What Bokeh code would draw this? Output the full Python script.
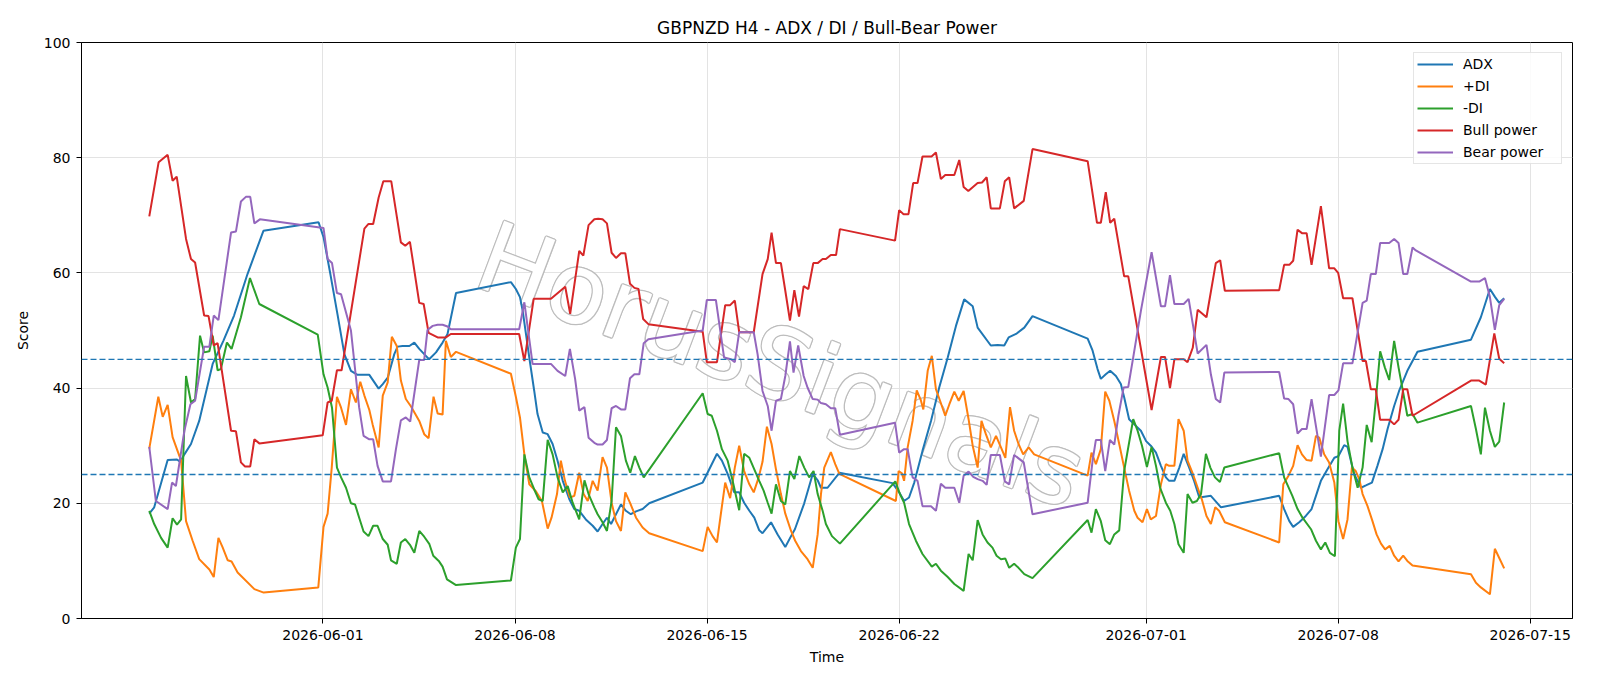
import numpy as np
import pandas as pd
from bokeh.plotting import figure
from bokeh.models import (ColumnDataSource, Span, FixedTicker, DatetimeTickFormatter,
                          Legend, LegendItem, Range1d)
from bokeh.core.properties import value
from bokeh.embed import file_html
from bokeh.resources import INLINE

BASE = pd.Timestamp("2026-06-01")
FONT = "DejaVu Sans"

# day offsets from 2026-06-01 and values
adx_day = [-6.33,-6.15,-5.66,-5.32,-5.2,-5.05,-4.81,-4.51,-4.02,-3.63,-3.24,-2.75,-2.17,-0.16,0.02,0.27,0.53,0.78,1.02,1.26,1.69,2.03,2.18,2.36,2.6,2.72,2.9,3.15,3.33,3.51,3.75,3.87,4.12,4.36,4.54,4.85,6.85,7.03,7.18,7.28,7.52,7.70,7.82,8.01,8.19,8.37,8.55,8.74,8.98,9.16,9.34,9.58,9.83,10.01,10.19,10.35,10.5,10.86,11.04,11.22,11.41,11.65,11.89,13.84,14.36,14.54,14.75,14.99,15.17,15.35,15.54,15.72,15.9,16.02,16.33,16.57,16.85,17.06,17.2,17.54,17.85,18.03,18.15,18.39,18.82,20.76,21.0,21.18,21.36,21.55,21.85,22.16,22.46,22.77,23.07,23.37,23.68,23.86,24.34,24.59,24.83,24.99,25.26,25.56,25.86,27.87,28.05,28.23,28.35,28.53,28.69,28.9,29.08,29.2,29.38,29.57,29.81,30.0,30.17,30.36,30.54,30.72,30.84,31.03,31.21,31.37,31.57,31.75,31.94,32.36,32.73,34.85,35.03,35.22,35.36,35.58,35.82,36.03,36.19,36.37,36.61,36.86,37.01,37.22,37.34,37.58,37.83,38.01,38.23,38.43,38.62,38.8,39.04,39.22,39.52,39.89,41.84,42.2,42.53,42.72,42.87,43.05]
adx = [18.2,19.3,27.5,27.6,27.2,28.5,30.3,34.3,44.2,48.2,52.6,59.8,67.3,68.8,66.2,59.8,52.8,45.9,43.0,42.3,42.3,39.9,40.7,41.8,45.9,47.2,47.3,47.3,47.9,46.8,45.6,45.0,46.2,47.9,49.4,56.5,58.4,57.2,55.8,53.4,45.3,39.5,35.5,32.3,32.0,30.3,27.4,23.9,20.7,19.0,18.7,17.2,16.1,15.1,16.4,17.5,16.4,19.8,18.7,18.1,18.6,19.0,20.0,23.6,28.6,27.4,25.1,21.9,21.9,20.1,18.7,17.5,15.3,14.8,16.7,14.6,12.4,14.3,15.5,20.0,25.1,24.0,22.7,22.7,25.3,23.5,21.9,20.4,21.0,23.6,29.1,34.3,40.1,45.3,50.8,55.4,54.2,50.5,47.4,47.5,47.4,48.8,49.4,50.5,52.5,48.6,46.5,43.3,41.6,42.4,43.0,42.1,40.7,38.4,34.6,33.7,32.6,30.8,30.0,28.8,26.5,24.5,23.9,23.9,26.2,28.6,26.2,23.9,21.0,21.3,19.3,21.3,19.0,16.9,15.9,16.7,17.8,19.0,21.3,23.9,25.9,27.9,28.2,30.1,29.8,25.1,22.7,23.1,23.6,26.5,29.4,32.9,36.9,39.5,43.0,46.3,48.4,52.3,57.2,55.8,54.8,55.6]

pdi_day = [-6.33,-6.0,-5.84,-5.66,-5.48,-5.3,-5.17,-4.99,-4.75,-4.51,-4.14,-3.98,-3.81,-3.66,-3.47,-3.33,-3.11,-2.5,-2.16,-0.17,0.02,0.17,0.32,0.51,0.66,0.84,1.02,1.2,1.36,1.51,1.69,1.81,2.03,2.18,2.36,2.51,2.69,2.84,3.02,3.21,3.51,3.69,3.85,4.03,4.18,4.36,4.48,4.66,4.85,6.85,7.03,7.18,7.34,7.52,7.76,7.98,8.19,8.33,8.53,8.67,8.82,9.0,9.16,9.34,9.5,9.65,9.83,10.01,10.19,10.35,10.52,10.68,10.86,11.02,11.2,11.41,11.65,11.89,13.84,14.02,14.2,14.36,14.5,14.66,14.84,15.01,15.17,15.35,15.54,15.7,15.88,16.02,16.18,16.35,16.51,16.69,16.85,17.06,17.21,17.42,17.66,17.85,18.03,18.15,18.27,18.51,18.67,18.82,20.88,20.98,21.1,21.18,21.31,21.49,21.64,21.79,21.88,22.04,22.19,22.34,22.49,22.68,22.83,23.01,23.17,23.35,23.53,23.68,23.86,24.0,24.16,24.34,24.53,24.71,24.87,25.04,25.19,25.35,25.52,25.72,25.92,27.87,28.01,28.17,28.35,28.51,28.66,28.84,29.02,29.2,29.38,29.57,29.69,29.87,30.03,30.17,30.36,30.54,30.72,30.84,31.03,31.18,31.37,31.51,31.69,31.88,32.03,32.2,32.36,32.52,32.66,32.87,34.85,35.0,35.19,35.36,35.52,35.68,35.85,36.03,36.19,36.31,36.49,36.67,36.86,37.01,37.18,37.34,37.5,37.64,37.77,37.89,38.07,38.25,38.4,38.56,38.71,38.88,39.04,39.2,39.37,39.52,39.71,41.84,42.02,42.2,42.53,42.71,42.87,43.05]
pdi = [29.5,38.5,35.0,37.1,31.5,29.1,27.4,16.9,13.5,10.3,8.5,7.2,14.0,12.4,10.1,9.9,8.0,5.1,4.5,5.4,15.9,18.2,26.2,38.5,36.6,33.6,39.8,37.5,41.1,38.7,36.2,33.7,29.7,38.7,41.0,48.9,47.3,41.3,38.1,36.8,34.3,32.0,31.3,38.5,35.6,35.4,48.2,45.4,46.3,42.5,38.5,34.9,28.5,23.3,22.1,20.4,15.6,17.5,21.6,27.4,23.9,21.0,21.3,25.3,21.6,20.4,23.9,22.2,28.0,26.2,20.1,16.9,15.2,21.9,20.0,17.5,15.8,14.8,11.7,15.9,14.3,13.2,18.1,23.6,20.9,26.2,30.0,25.6,23.3,21.9,24.5,27.2,33.3,30.3,25.9,21.6,18.2,15.2,13.5,11.7,10.3,8.8,14.6,21.6,26.2,28.9,26.8,25.1,20.4,25.6,25.2,23.9,29.7,34.3,39.6,37.9,36.3,43.0,45.6,39.8,37.8,35.2,37.2,39.4,37.8,39.5,34.6,30.0,26.2,34.3,32.0,29.7,31.7,29.7,27.9,36.7,32.6,30.3,28.5,29.7,28.5,24.8,28.8,26.8,29.4,39.4,37.8,34.3,30.3,26.2,22.2,18.7,17.5,16.7,19.0,17.2,17.8,23.3,26.8,26.5,26.5,34.6,32.6,27.4,25.3,22.7,20.7,17.8,16.4,19.3,18.7,16.7,13.2,23.3,24.8,26.5,30.1,28.5,27.5,27.4,31.7,31.4,28.5,27.1,23.6,16.9,13.8,17.2,26.2,25.6,24.2,21.6,19.5,16.9,14.6,13.0,12.0,12.6,10.9,9.9,10.9,10.0,9.2,7.7,6.2,5.4,4.2,12.1,10.5,8.7]

mdi_day = [-6.33,-6.15,-5.9,-5.66,-5.48,-5.32,-5.17,-4.99,-4.81,-4.66,-4.48,-4.33,-4.14,-4.02,-3.84,-3.72,-3.5,-3.33,-2.99,-2.66,-2.32,-0.19,0.02,0.17,0.33,0.51,0.66,0.84,1.02,1.17,1.32,1.48,1.66,1.83,1.99,2.18,2.36,2.48,2.69,2.84,3.0,3.17,3.33,3.51,3.69,3.88,4.02,4.22,4.36,4.52,4.85,6.85,7.03,7.18,7.34,7.52,7.7,7.86,8.01,8.19,8.37,8.55,8.74,8.92,9.1,9.34,9.53,9.68,9.89,10.01,10.19,10.35,10.52,10.68,10.86,11.04,11.2,11.37,11.53,11.69,13.84,14.02,14.17,14.36,14.54,14.75,14.93,15.17,15.35,15.54,15.72,15.9,16.06,16.21,16.35,16.51,16.69,16.85,17.02,17.18,17.36,17.54,17.72,17.88,18.03,18.21,18.33,18.55,18.84,20.86,21.03,21.18,21.36,21.61,21.85,22.19,22.34,22.52,22.77,23.01,23.35,23.53,23.68,23.86,24.04,24.22,24.4,24.55,24.71,24.87,25.01,25.19,25.35,25.56,25.86,27.87,28.01,28.17,28.35,28.51,28.68,28.84,29.02,29.2,29.35,29.53,29.69,29.85,30.03,30.2,30.36,30.51,30.72,30.88,31.03,31.18,31.37,31.51,31.69,31.85,32.0,32.18,32.34,32.51,32.69,32.85,34.85,35.03,35.33,35.52,35.7,36.01,36.19,36.37,36.53,36.7,36.88,37.04,37.18,37.34,37.52,37.71,37.89,38.04,38.22,38.37,38.53,38.7,38.86,39.04,39.2,39.37,39.52,39.71,39.89,41.84,42.02,42.2,42.35,42.53,42.71,42.87,43.05]
mdi = [18.7,16.4,14.0,12.3,17.4,16.3,17.2,42.1,37.5,38.1,49.1,46.2,46.4,49.1,43.1,43.3,47.9,46.8,52.3,59.1,54.6,49.3,42.4,40.1,36.6,26.2,24.5,22.7,20.0,19.8,17.5,15.1,14.3,16.1,16.1,13.8,12.8,10.1,9.5,13.2,13.8,12.8,11.4,15.2,14.2,12.9,10.9,10.0,9.0,6.8,5.8,6.6,12.3,13.8,28.5,24.5,22.4,20.7,20.4,31.0,28.5,24.5,21.9,23.0,20.1,17.2,24.0,21.6,19.3,18.1,16.7,15.2,20.4,33.2,31.7,27.4,25.3,28.2,26.2,24.5,39.1,35.5,35.2,32.6,29.4,27.4,23.9,18.8,28.6,27.9,25.9,23.9,22.2,20.1,18.2,23.3,20.4,19.8,25.6,24.2,28.2,26.2,24.5,25.6,21.6,18.7,16.4,14.3,13.0,23.8,21.6,20.1,16.4,13.5,11.2,9.0,9.5,8.3,7.2,6.0,4.8,11.2,10.1,17.1,14.6,13.2,12.3,10.9,10.3,10.4,8.8,9.5,8.8,7.7,7.0,17.1,14.9,19.0,16.9,13.6,12.9,14.6,15.3,25.6,29.7,34.6,32.6,30.0,26.3,29.8,26.5,22.7,20.1,18.7,16.4,12.9,11.4,21.6,20.1,20.4,21.6,28.6,26.2,24.5,23.7,26.2,28.7,24.5,21.3,19.0,17.5,15.5,13.5,12.0,13.2,11.4,10.8,32.6,37.3,30.8,26.2,22.7,26.2,33.6,30.6,37.8,46.4,43.6,41.4,48.2,43.6,39.2,35.2,35.5,34.0,36.9,32.9,28.5,36.6,32.6,29.8,30.7,37.5]

bull_day = [-6.33,-5.99,-5.66,-5.48,-5.33,-4.99,-4.81,-4.66,-4.33,-4.17,-3.98,-3.84,-3.35,-3.17,-2.99,-2.84,-2.65,-2.5,-2.32,-0.01,0.17,0.32,0.51,0.68,1.51,1.66,1.83,2.03,2.2,2.49,2.84,3.0,3.17,3.51,3.67,3.85,4.18,4.48,4.66,7.15,7.34,7.68,8.31,8.83,9.01,9.34,9.49,9.68,9.89,10.03,10.19,10.35,10.52,10.68,10.86,11.02,11.19,11.35,11.5,11.67,11.86,13.84,13.99,14.36,14.66,14.84,15.01,15.17,15.7,16.02,16.21,16.35,16.51,16.69,16.85,17.02,17.18,17.35,17.52,17.69,17.87,18.03,18.21,18.33,18.51,18.7,18.84,20.85,21.0,21.16,21.34,21.51,21.67,21.85,22.18,22.34,22.52,22.68,23.01,23.19,23.35,23.52,23.86,24.02,24.19,24.34,24.67,24.85,25.01,25.19,25.54,25.86,27.87,28.21,28.35,28.53,28.69,28.84,29.2,29.35,30.2,30.54,30.69,30.87,31.03,31.37,31.51,31.7,31.88,32.2,32.54,32.7,32.87,34.85,35.03,35.22,35.36,35.52,35.68,35.85,36.03,36.37,36.67,36.86,37.0,37.18,37.52,37.89,38.01,38.19,38.37,38.53,38.86,39.04,39.2,39.37,39.52,39.71,41.84,42.14,42.38,42.69,42.87,43.05]
bull = [69.8,79.2,80.5,76.0,76.7,65.9,62.4,61.8,52.6,52.5,47.4,47.8,32.6,32.5,27.1,26.4,26.4,31.1,30.4,31.8,37.5,37.8,43.1,43.1,67.7,68.5,68.5,73.1,75.9,75.9,65.3,64.7,65.4,54.8,54.6,49.6,48.8,48.8,49.4,49.4,44.7,55.5,55.5,57.6,52.9,63.8,63.0,68.3,69.3,69.4,69.3,68.6,63.5,62.6,63.4,63.4,58.1,57.4,57.2,52.0,51.1,49.8,44.5,44.5,54.4,54.4,55.2,49.7,49.7,59.8,62.4,67.0,61.7,61.7,56.9,51.7,57.0,52.4,57.7,57.2,61.7,61.7,62.4,62.4,63.1,63.1,67.6,65.6,70.9,70.2,70.2,75.6,75.6,80.2,80.2,80.9,76.3,77.0,77.0,79.6,74.9,74.2,75.6,75.7,76.6,71.2,71.2,75.9,76.6,71.2,72.5,81.5,79.4,68.7,68.7,74.0,68.7,69.4,59.4,59.4,36.2,45.4,45.4,40.0,45.0,45.0,44.5,47.0,53.6,52.3,61.7,62.2,56.9,57.0,61.4,61.4,62.1,67.5,66.9,66.9,61.4,71.6,60.8,60.8,60.0,55.6,55.6,44.7,44.7,39.8,39.8,34.5,34.5,33.7,34.5,39.8,39.8,35.2,41.3,41.3,40.6,49.5,45.1,44.3]

bear_day = [-6.33,-6.09,-5.66,-5.5,-5.36,-5.05,-4.83,-4.66,-4.33,-4.14,-3.98,-3.81,-3.35,-3.17,-2.99,-2.81,-2.65,-2.5,-2.3,0.02,0.17,0.33,0.51,0.66,1.02,1.32,1.48,1.69,1.83,1.99,2.18,2.48,2.66,2.84,3.02,3.18,3.51,3.69,3.81,4.0,4.18,4.36,4.54,4.66,7.15,7.34,7.64,8.31,8.55,8.83,9.0,9.19,9.34,9.53,9.68,9.89,10.01,10.19,10.35,10.52,10.68,10.86,11.02,11.19,11.35,11.53,11.69,11.86,13.84,13.99,14.32,14.62,14.87,15.01,15.17,15.7,15.84,16.02,16.21,16.35,16.51,16.69,16.85,17.02,17.15,17.32,17.52,17.66,17.85,18.03,18.15,18.33,18.51,18.67,18.84,20.85,21.0,21.18,21.31,21.49,21.67,21.85,22.16,22.34,22.52,22.68,23.01,23.19,23.35,23.53,23.7,23.86,24.04,24.19,24.34,24.67,24.85,25.01,25.19,25.54,25.86,27.87,28.05,28.17,28.35,28.51,28.68,28.84,28.99,29.18,29.35,29.55,29.81,30.2,30.54,30.69,30.87,31.03,31.37,31.55,31.88,32.2,32.36,32.54,32.7,32.85,34.85,35.03,35.19,35.36,35.52,35.68,35.85,36.03,36.37,36.67,36.86,37.01,37.18,37.52,37.89,38.04,38.19,38.37,38.53,38.86,39.04,39.2,39.37,39.52,39.71,39.83,41.84,42.14,42.35,42.53,42.71,42.87,43.05]
bear = [29.8,20.4,19.0,23.6,23.0,32.6,37.2,37.8,47.2,47.2,52.6,51.8,67.0,67.2,72.4,73.2,73.2,68.6,69.3,67.8,62.4,61.7,56.5,56.3,50.0,36.6,31.7,31.1,31.1,26.5,23.8,23.8,29.4,34.4,34.9,34.2,44.9,44.9,50.1,50.8,51.0,51.0,50.7,50.2,50.2,54.9,44.2,44.2,43.0,42.1,46.8,41.6,36.1,36.7,31.4,30.5,30.2,30.2,31.0,36.5,36.9,36.3,36.3,41.7,42.4,42.4,47.8,48.5,50.0,55.3,55.3,45.3,45.0,44.5,49.7,49.7,45.9,39.5,36.9,32.6,37.8,38.1,42.1,48.1,42.7,47.4,42.1,40.1,38.1,38.0,37.4,37.2,36.5,36.5,31.9,34.0,28.8,29.4,29.4,24.5,23.9,19.5,19.5,18.7,23.4,22.7,22.7,20.1,24.8,25.5,24.6,24.2,23.9,23.2,28.4,28.4,23.8,23.3,28.4,27.1,18.1,20.1,27.4,31.0,31.0,25.6,31.0,30.2,35.2,40.1,40.2,45.9,53.4,63.6,54.2,54.2,59.6,54.6,54.6,55.5,46.0,47.5,42.4,38.1,37.5,42.7,42.8,38.2,38.1,37.2,32.1,32.9,32.9,38.1,28.1,38.8,38.8,39.6,44.3,44.3,54.8,55.2,59.8,59.8,65.2,65.2,65.9,65.2,59.8,59.8,64.4,63.9,58.5,58.5,59.1,55.8,50.1,54.4,55.5]

x_ticks = ["2026-06-01", "2026-06-08", "2026-06-15", "2026-06-22", "2026-07-01", "2026-07-08", "2026-07-15"]
y_ticks = [0, 20, 40, 60, 80, 100]
thresholds = [45, 25]
watermark = "HorusSignals"

series = [
    ("ADX", adx_day, adx, "#1f77b4"),
    ("+DI", pdi_day, pdi, "#ff7f0e"),
    ("-DI", mdi_day, mdi, "#2ca02c"),
    ("Bull power", bull_day, bull, "#d62728"),
    ("Bear power", bear_day, bear, "#9467bd"),
]


def to_dt(days):
    return BASE + pd.to_timedelta(np.asarray(days, dtype=float), unit="D")


def ms(ts):
    return pd.Timestamp(ts).value / 1e6


x_start = ms(BASE + pd.Timedelta(days=-8.8))
x_end = ms(BASE + pd.Timedelta(days=45.54))

p = figure(width=1600, height=686, x_axis_type="datetime",
           output_backend="svg", toolbar_location=None,
           title="GBPNZD H4 - ADX / DI / Bull-Bear Power",
           x_range=Range1d(x_start, x_end), y_range=Range1d(0, 100),
           min_border_left=81, min_border_right=28,
           min_border_top=42, min_border_bottom=68)

p.title.align = "center"
p.title.text_font = FONT
p.title.text_font_size = "17px"
p.title.text_font_style = "normal"
p.title.text_color = "black"

p.background_fill_color = "white"
p.border_fill_color = "white"
p.outline_line_color = "black"
p.outline_line_width = 1

for ax in (p.xaxis[0], p.yaxis[0]):
    ax.axis_line_color = "black"
    ax.major_tick_line_color = "black"
    ax.major_tick_out = 5
    ax.major_tick_in = 0
    ax.minor_tick_line_color = None
    ax.major_label_text_font = FONT
    ax.major_label_text_font_size = "14px"
    ax.major_label_text_color = "black"
    ax.axis_label_text_font = FONT
    ax.axis_label_text_font_size = "14px"
    ax.axis_label_text_font_style = "normal"
    ax.axis_label_text_color = "black"

p.xaxis.axis_label = "Time"
p.yaxis.axis_label = "Score"
p.xaxis.ticker = FixedTicker(ticks=[ms(t) for t in x_ticks])
fmt = "%Y-%m-%d"
p.xaxis.formatter = DatetimeTickFormatter(milliseconds=fmt, seconds=fmt, minsec=fmt, minutes=fmt,
                                          hourmin=fmt, hours=fmt, days=fmt, months=fmt, years=fmt)
p.yaxis.ticker = FixedTicker(ticks=y_ticks)
p.xaxis.major_label_standoff = 6
p.yaxis.major_label_standoff = 6
p.xaxis.axis_label_standoff = 6
p.yaxis.axis_label_standoff = 10

p.xgrid.grid_line_color = "#e3e3e3"
p.ygrid.grid_line_color = "#e3e3e3"
p.xgrid.grid_line_width = 1
p.ygrid.grid_line_width = 1

# hollow watermark: gray copies around the position, white copy on top
wm = ColumnDataSource(dict(x=[ms(BASE + pd.Timedelta(days=16.7))], y=[44.0], t=[watermark]))
wm_style = dict(x="x", y="y", text="t", source=wm, angle=-0.36, text_align="center",
                text_baseline="middle", text_font=value(FONT), text_font_size=value("98px"))
r_ = 1.3
for dx, dy in [(-r_, 0), (r_, 0), (0, -r_), (0, r_), (-0.9, -0.9), (0.9, 0.9), (-0.9, 0.9), (0.9, -0.9)]:
    p.text(x_offset=dx, y_offset=dy, text_color="#bdbdbd", text_alpha=0.9, **wm_style)
p.text(text_color="white", text_alpha=1.0, **wm_style)

items = []
for name, days, vals, color in series:
    src = ColumnDataSource(dict(x=to_dt(days), y=vals))
    r = p.line("x", "y", source=src, line_color=color, line_width=2)
    items.append(LegendItem(label=name, renderers=[r]))

for th in thresholds:
    p.add_layout(Span(location=th, dimension="width", line_color="#1f77b4",
                      line_dash="6 3", line_width=1.3))

legend = Legend(items=items, location="top_right")
legend.label_text_font = FONT
legend.label_text_font_size = "14px"
legend.label_text_color = "black"
legend.glyph_width = 36
legend.glyph_height = 16
legend.label_height = 16
legend.label_width = 95
legend.spacing = 6
legend.padding = 3
legend.label_standoff = 10
legend.margin = 10
legend.border_line_color = "#cccccc"
legend.border_line_width = 1
legend.background_fill_alpha = 0.85
p.add_layout(legend)

open("out.html", "w").write(file_html(p, INLINE))
